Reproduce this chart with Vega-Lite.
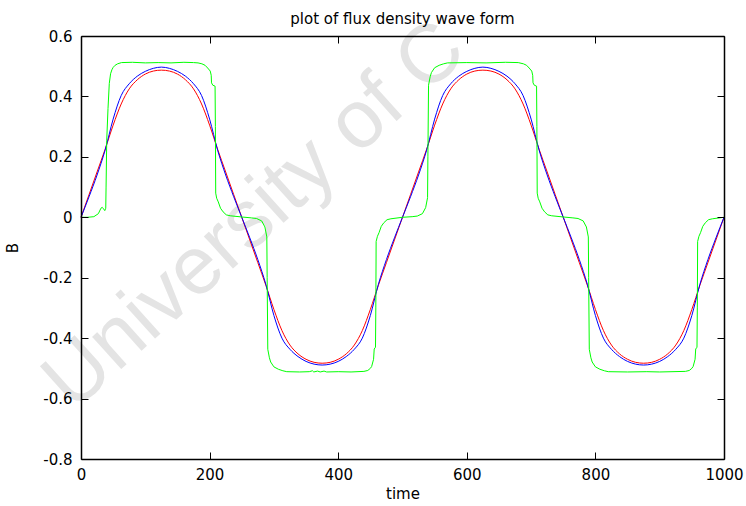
{
  "$schema": "https://vega.github.io/schema/vega-lite/v6.json",
  "width": 643,
  "height": 423,
  "autosize": {"type": "none"},
  "padding": {"left": 81, "top": 36, "right": 22, "bottom": 47},
  "background": "white",
  "config": {"view": {"stroke": null}, "font": "DejaVu Sans"},
  "title": {"text": "plot of flux density wave form", "font": "DejaVu Sans", "fontSize": 15, "fontWeight": "normal", "color": "black", "anchor": "middle", "frame": "group", "offset": 10, "dy": 30},
  "datasets": {
    "wm": [{"t": -12.4, "B": -0.646, "label": "University of C"}],
    "red": [
      {"t":0,"B":0},{"t":12.5,"B":0.075},{"t":25,"B":0.15},{"t":37.5,"B":0.225},{"t":50,"B":0.305},{"t":62.5,"B":0.375},{"t":75,"B":0.425},{"t":87.5,"B":0.455},{"t":100,"B":0.474},{"t":112.5,"B":0.484},{"t":125,"B":0.487},{"t":137.5,"B":0.484},{"t":150,"B":0.474},{"t":162.5,"B":0.455},{"t":175,"B":0.425},{"t":187.5,"B":0.375},{"t":200,"B":0.305},{"t":212.5,"B":0.225},{"t":225,"B":0.15},{"t":237.5,"B":0.075},
      {"t":250,"B":0},{"t":262.5,"B":-0.075},{"t":275,"B":-0.15},{"t":287.5,"B":-0.225},{"t":300,"B":-0.305},{"t":312.5,"B":-0.375},{"t":325,"B":-0.423},{"t":337.5,"B":-0.452},{"t":350,"B":-0.47},{"t":362.5,"B":-0.48},{"t":375,"B":-0.483},{"t":387.5,"B":-0.48},{"t":400,"B":-0.47},{"t":412.5,"B":-0.452},{"t":425,"B":-0.423},{"t":437.5,"B":-0.375},{"t":450,"B":-0.305},{"t":462.5,"B":-0.225},{"t":475,"B":-0.15},{"t":487.5,"B":-0.075},
      {"t":500,"B":0},{"t":512.5,"B":0.075},{"t":525,"B":0.15},{"t":537.5,"B":0.225},{"t":550,"B":0.305},{"t":562.5,"B":0.375},{"t":575,"B":0.425},{"t":587.5,"B":0.455},{"t":600,"B":0.474},{"t":612.5,"B":0.484},{"t":625,"B":0.487},{"t":637.5,"B":0.484},{"t":650,"B":0.474},{"t":662.5,"B":0.455},{"t":675,"B":0.425},{"t":687.5,"B":0.375},{"t":700,"B":0.305},{"t":712.5,"B":0.225},{"t":725,"B":0.15},{"t":737.5,"B":0.075},
      {"t":750,"B":0},{"t":762.5,"B":-0.075},{"t":775,"B":-0.15},{"t":787.5,"B":-0.225},{"t":800,"B":-0.305},{"t":812.5,"B":-0.375},{"t":825,"B":-0.423},{"t":837.5,"B":-0.452},{"t":850,"B":-0.47},{"t":862.5,"B":-0.48},{"t":875,"B":-0.483},{"t":887.5,"B":-0.48},{"t":900,"B":-0.47},{"t":912.5,"B":-0.452},{"t":925,"B":-0.423},{"t":937.5,"B":-0.375},{"t":950,"B":-0.305},{"t":962.5,"B":-0.225},{"t":975,"B":-0.15},{"t":987.5,"B":-0.075},{"t":1000,"B":0}
    ],
    "blue": [
      {"t":0,"B":0},{"t":12.5,"B":0.068},{"t":25,"B":0.14},{"t":37.5,"B":0.222},{"t":50,"B":0.325},{"t":62.5,"B":0.403},{"t":75,"B":0.442},{"t":87.5,"B":0.467},{"t":100,"B":0.483},{"t":112.5,"B":0.493},{"t":125,"B":0.497},{"t":137.5,"B":0.493},{"t":150,"B":0.483},{"t":162.5,"B":0.467},{"t":175,"B":0.442},{"t":187.5,"B":0.403},{"t":200,"B":0.325},{"t":212.5,"B":0.222},{"t":225,"B":0.14},{"t":237.5,"B":0.068},
      {"t":250,"B":0},{"t":262.5,"B":-0.068},{"t":275,"B":-0.14},{"t":287.5,"B":-0.222},{"t":300,"B":-0.325},{"t":312.5,"B":-0.4},{"t":325,"B":-0.437},{"t":337.5,"B":-0.461},{"t":350,"B":-0.477},{"t":362.5,"B":-0.486},{"t":375,"B":-0.489},{"t":387.5,"B":-0.486},{"t":400,"B":-0.477},{"t":412.5,"B":-0.461},{"t":425,"B":-0.437},{"t":437.5,"B":-0.4},{"t":450,"B":-0.325},{"t":462.5,"B":-0.222},{"t":475,"B":-0.14},{"t":487.5,"B":-0.068},
      {"t":500,"B":0},{"t":512.5,"B":0.068},{"t":525,"B":0.14},{"t":537.5,"B":0.222},{"t":550,"B":0.325},{"t":562.5,"B":0.403},{"t":575,"B":0.442},{"t":587.5,"B":0.467},{"t":600,"B":0.483},{"t":612.5,"B":0.493},{"t":625,"B":0.497},{"t":637.5,"B":0.493},{"t":650,"B":0.483},{"t":662.5,"B":0.467},{"t":675,"B":0.442},{"t":687.5,"B":0.403},{"t":700,"B":0.325},{"t":712.5,"B":0.222},{"t":725,"B":0.14},{"t":737.5,"B":0.068},
      {"t":750,"B":0},{"t":762.5,"B":-0.068},{"t":775,"B":-0.14},{"t":787.5,"B":-0.222},{"t":800,"B":-0.325},{"t":812.5,"B":-0.4},{"t":825,"B":-0.437},{"t":837.5,"B":-0.461},{"t":850,"B":-0.477},{"t":862.5,"B":-0.486},{"t":875,"B":-0.489},{"t":887.5,"B":-0.486},{"t":900,"B":-0.477},{"t":912.5,"B":-0.461},{"t":925,"B":-0.437},{"t":937.5,"B":-0.4},{"t":950,"B":-0.325},{"t":962.5,"B":-0.222},{"t":975,"B":-0.14},{"t":987.5,"B":-0.068},{"t":1000,"B":0}
    ],
    "green": [
      {"t":0,"B":0},{"t":10,"B":0},{"t":20,"B":0.002},{"t":27,"B":0.012},{"t":31,"B":0.03},{"t":33,"B":0.033},{"t":35,"B":0.028},{"t":37,"B":0.022},{"t":38.5,"B":0.03},{"t":39,"B":0.1},{"t":40,"B":0.255},{"t":42,"B":0.36},{"t":44,"B":0.443},{"t":46,"B":0.475},{"t":48,"B":0.488},{"t":50,"B":0.496},{"t":53,"B":0.503},{"t":57,"B":0.508},{"t":63,"B":0.512},{"t":80,"B":0.513},{"t":100,"B":0.511},{"t":120,"B":0.512},{"t":140,"B":0.511},{"t":160,"B":0.513},{"t":175,"B":0.512},{"t":182,"B":0.511},{"t":188,"B":0.508},{"t":193,"B":0.503},{"t":197,"B":0.494},{"t":201,"B":0.484},{"t":202.5,"B":0.47},{"t":203,"B":0.445},{"t":205,"B":0.437},{"t":208.5,"B":0.434},{"t":209,"B":0.3},{"t":209.5,"B":0.08},{"t":211,"B":0.063},{"t":213.5,"B":0.051},{"t":217,"B":0.03},{"t":221,"B":0.018},{"t":226,"B":0.008},{"t":232,"B":0.005},{"t":250,"B":0.001},
      {"t":265,"B":-0.002},{"t":273,"B":-0.004},{"t":281,"B":-0.012},{"t":286,"B":-0.032},{"t":289,"B":-0.065},{"t":289.5,"B":-0.2},{"t":290.5,"B":-0.437},{"t":293,"B":-0.465},{"t":295,"B":-0.479},{"t":300,"B":-0.495},{"t":307,"B":-0.503},{"t":314,"B":-0.508},{"t":320,"B":-0.511},{"t":340,"B":-0.512},{"t":355,"B":-0.511},{"t":360,"B":-0.508},{"t":362,"B":-0.512},{"t":368,"B":-0.509},{"t":372,"B":-0.512},{"t":378,"B":-0.509},{"t":382,"B":-0.512},{"t":400,"B":-0.511},{"t":420,"B":-0.512},{"t":440,"B":-0.51},{"t":446,"B":-0.507},{"t":450,"B":-0.5},{"t":452,"B":-0.494},{"t":455,"B":-0.47},{"t":456,"B":-0.436},{"t":458,"B":-0.43},{"t":458.5,"B":-0.3},{"t":459,"B":-0.08},{"t":461,"B":-0.063},{"t":463.5,"B":-0.051},{"t":467,"B":-0.03},{"t":471,"B":-0.018},{"t":476,"B":-0.008},{"t":482,"B":-0.005},{"t":500,"B":0},
      {"t":515,"B":0.002},{"t":523,"B":0.004},{"t":531,"B":0.012},{"t":536,"B":0.032},{"t":539,"B":0.065},{"t":539.5,"B":0.2},{"t":540.5,"B":0.437},{"t":543,"B":0.465},{"t":545,"B":0.479},{"t":550,"B":0.495},{"t":557,"B":0.503},{"t":564,"B":0.508},{"t":570,"B":0.511},{"t":600,"B":0.512},{"t":630,"B":0.511},{"t":660,"B":0.513},{"t":680,"B":0.512},{"t":688,"B":0.508},{"t":693,"B":0.503},{"t":697,"B":0.494},{"t":701,"B":0.484},{"t":702.5,"B":0.47},{"t":703,"B":0.445},{"t":705,"B":0.437},{"t":708.5,"B":0.434},{"t":709,"B":0.3},{"t":709.5,"B":0.08},{"t":711,"B":0.063},{"t":713.5,"B":0.051},{"t":717,"B":0.03},{"t":721,"B":0.018},{"t":726,"B":0.008},{"t":732,"B":0.005},{"t":750,"B":0.001},
      {"t":765,"B":-0.002},{"t":773,"B":-0.004},{"t":781,"B":-0.012},{"t":786,"B":-0.032},{"t":789,"B":-0.065},{"t":789.5,"B":-0.2},{"t":790.5,"B":-0.437},{"t":793,"B":-0.465},{"t":795,"B":-0.479},{"t":800,"B":-0.495},{"t":807,"B":-0.503},{"t":814,"B":-0.508},{"t":820,"B":-0.511},{"t":850,"B":-0.512},{"t":880,"B":-0.511},{"t":900,"B":-0.512},{"t":940,"B":-0.51},{"t":946,"B":-0.507},{"t":950,"B":-0.5},{"t":952,"B":-0.494},{"t":955,"B":-0.47},{"t":956,"B":-0.436},{"t":958,"B":-0.43},{"t":958.5,"B":-0.3},{"t":959,"B":-0.08},{"t":961,"B":-0.063},{"t":963.5,"B":-0.051},{"t":967,"B":-0.03},{"t":971,"B":-0.018},{"t":976,"B":-0.008},{"t":982,"B":-0.005},{"t":1000,"B":0}
    ]
  },
  "layer": [
    {
      "data": {"name": "wm"},
      "mark": {"type": "text", "angle": -42, "align": "left", "baseline": "alphabetic", "font": "Liberation Sans", "fontSize": 82, "color": "#e4e4e4"},
      "encoding": {
        "x": {"field": "t", "type": "quantitative", "scale": {"domain": [0, 1000], "nice": false, "zero": false}, "axis": null},
        "y": {"field": "B", "type": "quantitative", "scale": {"domain": [-0.8, 0.6], "nice": false, "zero": false}, "axis": null},
        "text": {"field": "label"}
      }
    },
    {
      "data": {"name": "red"},
      "mark": {"type": "line", "color": "#ff0000", "strokeWidth": 1, "interpolate": "monotone"},
      "encoding": {
        "x": {"field": "t", "type": "quantitative", "axis": {"orient": "bottom", "zindex": 1, "values": [0, 200, 400, 600, 800, 1000], "format": "d", "grid": false, "domainColor": "black", "domainWidth": 1.5, "tickColor": "black", "tickSize": -7, "labelPadding": 15, "labelFontSize": 15, "labelColor": "black", "labelFont": "DejaVu Sans", "labelFlush": false, "title": "time", "titleFont": "DejaVu Sans", "titleFontSize": 15, "titleFontWeight": "normal", "titleColor": "black", "titlePadding": 4}},
        "y": {"field": "B", "type": "quantitative", "axis": {"orient": "left", "zindex": 1, "values": [-0.8, -0.6, -0.4, -0.2, 0, 0.2, 0.4, 0.6], "labelExpr": "replace(format(datum.value, '.1~f'), '\u2212', '-')", "grid": false, "domainColor": "black", "domainWidth": 1.5, "tickColor": "black", "tickSize": -7, "labelPadding": 16, "labelFontSize": 15, "labelColor": "black", "labelFont": "DejaVu Sans", "labelFlush": false, "title": "B", "titleFont": "DejaVu Sans", "titleFontSize": 15, "titleFontWeight": "normal", "titleColor": "black", "titlePadding": 22}}
      }
    },
    {
      "data": {"name": "blue"},
      "mark": {"type": "line", "color": "#0000ff", "strokeWidth": 1, "interpolate": "monotone"},
      "encoding": {
        "x": {"field": "t", "type": "quantitative", "axis": {"orient": "top", "zindex": 1, "values": [0, 200, 400, 600, 800, 1000], "grid": false, "labels": false, "title": null, "domainColor": "black", "domainWidth": 1.5, "tickColor": "black", "tickSize": -7}},
        "y": {"field": "B", "type": "quantitative", "axis": {"orient": "right", "zindex": 1, "values": [-0.8, -0.6, -0.4, -0.2, 0, 0.2, 0.4, 0.6], "grid": false, "labels": false, "title": null, "domainColor": "black", "domainWidth": 1.5, "tickColor": "black", "tickSize": -7}}
      }
    },
    {
      "data": {"name": "green"},
      "mark": {"type": "line", "color": "#00ff00", "strokeWidth": 1},
      "encoding": {
        "x": {"field": "t", "type": "quantitative", "axis": null},
        "y": {"field": "B", "type": "quantitative", "axis": null}
      }
    }
  ],
  "resolve": {"axis": {"x": "independent", "y": "independent"}}
}
